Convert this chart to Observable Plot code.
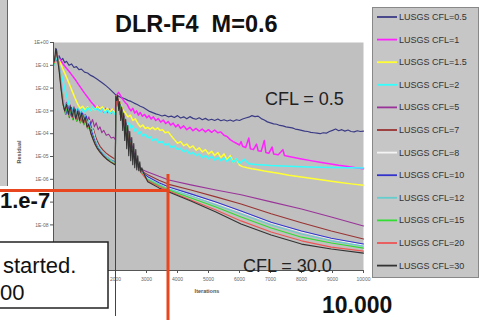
<!DOCTYPE html>
<html><head><meta charset="utf-8">
<script src="https://cdn.jsdelivr.net/npm/d3@7"></script>
<script src="https://cdn.jsdelivr.net/npm/@observablehq/plot@0.6"></script>
<style>
html,body{margin:0;padding:0;background:#fff;}
#chart{position:relative;width:479px;height:320px;overflow:hidden;}
</style></head><body><div id="chart"></div>
<script>
const seriesNames = ["LUSGS CFL=0.5","LUSGS CFL=1","LUSGS CFL=1.5","LUSGS CFL=2","LUSGS CFL=5","LUSGS CFL=7","LUSGS CFL=8","LUSGS CFL=10","LUSGS CFL=12","LUSGS CFL=15","LUSGS CFL=20","LUSGS CFL=30"];
const seriesColors = ["#3b3b86","#ff22ff","#ffff33","#33ffff","#993399","#993333","#f4f4f4","#3333cc","#66cccc","#33dd33","#ee5555","#333333"];
const seriesWidths = [1.2,1.5,1.5,1.5,1.1,1.1,1.1,1.1,1.1,1.1,1.1,1.1];

const xTicks = [0,1000,2000,3000,4000,5000,6000,7000,8000,9000,10000];
const yTicks = [1e-10,1e-9,1e-8,1e-7,1e-6,1e-5,1e-4,1e-3,1e-2,1e-1,1];
// tick labels that lie under the slide's overlaid boxes
const xHiddenLabels = [0,1000];
const yHiddenLabels = [1e-10,1e-9,1e-7];

const cfl05 = [[60,2.2e-1],[120,1.5e-1],[180,2.6e-1],[240,1.7e-1],[300,2.0e-1],[360,1.3e-1],[420,1.5e-1],[500,1.0e-1],[580,1.15e-1],[660,8.0e-2],[740,8.8e-2],[820,6.5e-2],[900,6.8e-2],[1000,5.0e-2],[1100,4.6e-2],[1200,3.6e-2],[1300,3.1e-2],[1400,2.5e-2],[1500,2.0e-2],[1600,1.6e-2],[1700,1.25e-2],[1800,9.5e-3],[1900,7.0e-3],[2000,5.2e-3],[2100,4.4e-3],[2200,3.8e-3],[2300,3.4e-3],[2400,2.9e-3],[2500,2.6e-3],[2600,2.2e-3],[2700,1.9e-3],[2800,1.6e-3],[2900,1.4e-3],[3000,1.15e-3],[3100,9.5e-4],[3200,8.4e-4],[3300,7.4e-4],[3400,6.8e-4],[3500,6.0e-4],[3600,6.5e-4],[3700,5.5e-4],[3800,5.9e-4],[3900,5.1e-4],[4000,6.2e-4],[4100,4.9e-4],[4200,5.5e-4],[4300,4.5e-4],[4400,5.6e-4],[4500,4.7e-4],[4600,4.3e-4],[4700,5.0e-4],[4800,4.1e-4],[4900,4.7e-4],[5000,3.9e-4],[5100,4.3e-4],[5200,3.8e-4],[5300,4.4e-4],[5400,3.7e-4],[5500,4.1e-4],[5600,3.6e-4],[5700,4.0e-4],[5800,3.5e-4],[5900,4.1e-4],[6000,3.8e-4],[6100,4.4e-4],[6200,4.9e-4],[6300,5.3e-4],[6400,6.2e-4],[6500,5.6e-4],[6600,5.9e-4],[6700,4.6e-4],[6800,4.0e-4],[6900,3.3e-4],[7000,3.0e-4],[7100,2.7e-4],[7200,2.6e-4],[7300,2.3e-4],[7400,2.2e-4],[7500,2.0e-4],[7600,1.9e-4],[7700,1.8e-4],[7800,1.6e-4],[7900,1.5e-4],[8000,1.4e-4],[8100,1.3e-4],[8200,1.25e-4],[8300,1.15e-4],[8400,1.1e-4],[8500,1.05e-4],[8600,1.0e-4],[8700,1.1e-4],[8800,1.05e-4],[8900,1.25e-4],[9000,1.4e-4],[9100,1.6e-4],[9200,1.35e-4],[9300,1.5e-4],[9400,1.3e-4],[9500,1.45e-4],[9600,1.25e-4],[9700,1.2e-4],[9800,1.35e-4],[9900,1.25e-4],[10000,1.3e-4]];

const cfl1 = [[100,3.0e-1],[160,2.0e-1],[220,1.8e-1],[300,1.2e-1],[400,8.0e-2],[500,5.5e-2],[600,3.6e-2],[700,2.4e-2],[800,1.5e-2],[900,9.5e-3],[1000,6.0e-3],[1100,4.0e-3],[1200,2.6e-3],[1300,1.8e-3],[1400,1.2e-3],[1450,1.6e-3],[1500,1.0e-3],[1560,1.4e-3],[1620,9.0e-4],[1680,1.3e-3],[1740,8.5e-4],[1800,1.2e-3],[1860,8.0e-4],[1920,1.1e-3],[1990,8.5e-4],[2020,3.0e-3],[2060,5.5e-3],[2100,6.5e-3],[2150,5.0e-3],[2200,3.8e-3],[2260,2.9e-3],[2320,2.3e-3],[2380,1.9e-3],[2440,1.3e-3],[2500,1.0e-3],[2560,1.3e-3],[2620,8.0e-4],[2680,1.0e-3],[2740,6.5e-4],[2800,8.5e-4],[2870,5.8e-4],[2940,7.0e-4],[3010,5.0e-4],[3080,6.2e-4],[3150,4.4e-4],[3220,5.5e-4],[3300,3.8e-4],[3380,4.6e-4],[3460,3.2e-4],[3540,4.0e-4],[3620,2.8e-4],[3700,3.4e-4],[3780,2.4e-4],[3860,2.9e-4],[3940,2.0e-4],[4020,2.5e-4],[4100,1.7e-4],[4200,2.2e-4],[4300,1.5e-4],[4400,1.9e-4],[4500,1.35e-4],[4600,1.7e-4],[4700,1.3e-4],[4800,1.6e-4],[4900,1.2e-4],[5000,1.5e-4],[5100,1.15e-4],[5200,1.45e-4],[5300,1.1e-4],[5400,1.2e-4],[5500,8.5e-5],[5600,7.5e-5],[5700,5.5e-5],[5800,4.5e-5],[5900,3.8e-5],[6000,3.2e-5],[6050,4.5e-5],[6100,2.8e-5],[6200,2.5e-5],[6300,6.5e-5],[6350,2.2e-5],[6450,2.0e-5],[6550,3.5e-5],[6600,1.8e-5],[6700,1.7e-5],[6800,5.0e-5],[6850,1.5e-5],[6950,1.4e-5],[7050,2.6e-5],[7100,1.3e-5],[7250,1.2e-5],[7400,2.0e-5],[7450,1.1e-5],[7600,1.0e-5],[7800,8.8e-6],[8000,7.8e-6],[8300,6.6e-6],[8600,5.6e-6],[8900,4.8e-6],[9200,4.1e-6],[9500,3.6e-6],[9800,3.1e-6],[10000,2.9e-6]];

const cfl15 = [[100,2.4e-1],[160,1.8e-1],[230,1.2e-1],[300,7.0e-2],[380,4.0e-2],[460,2.2e-2],[540,1.2e-2],[620,6.5e-3],[700,3.5e-3],[780,2.0e-3],[860,1.3e-3],[940,1.6e-3],[1020,1.1e-3],[1100,1.5e-3],[1180,1.0e-3],[1260,1.4e-3],[1340,1.1e-3],[1420,1.6e-3],[1500,1.2e-3],[1580,1.5e-3],[1660,1.0e-3],[1740,1.3e-3],[1820,9.0e-4],[1900,1.2e-3],[1990,8.0e-4],[2030,2.5e-3],[2090,3.2e-3],[2160,2.0e-3],[2240,1.1e-3],[2320,8.0e-4],[2400,5.5e-4],[2480,6.5e-4],[2560,3.8e-4],[2640,4.5e-4],[2720,2.8e-4],[2800,2.0e-4],[2880,2.4e-4],[2960,1.7e-4],[3040,1.9e-4],[3120,1.6e-4],[3200,1.9e-4],[3280,1.5e-4],[3360,1.8e-4],[3440,1.4e-4],[3520,1.5e-4],[3600,1.1e-4],[3700,1.2e-4],[3800,8.0e-5],[3900,5.5e-5],[4000,3.8e-5],[4100,4.5e-5],[4200,3.0e-5],[4300,3.5e-5],[4400,2.4e-5],[4500,2.9e-5],[4600,1.9e-5],[4700,2.4e-5],[4800,1.6e-5],[4900,2.0e-5],[5000,1.3e-5],[5100,1.7e-5],[5200,1.1e-5],[5300,1.5e-5],[5400,9.0e-6],[5500,1.3e-5],[5600,7.0e-6],[5700,1.1e-5],[5800,5.5e-6],[5900,8.0e-6],[6000,4.2e-6],[6100,3.6e-6],[6250,3.2e-6],[6400,2.9e-6],[6600,2.6e-6],[6800,2.3e-6],[7000,2.1e-6],[7300,1.8e-6],[7600,1.5e-6],[8000,1.25e-6],[8400,1.05e-6],[8800,8.8e-7],[9200,7.4e-7],[9600,6.3e-7],[10000,5.5e-7]];

const cfl2 = [[100,2.0e-1],[160,1.3e-1],[220,6.0e-2],[280,2.8e-2],[340,1.3e-2],[400,6.0e-3],[460,3.0e-3],[520,1.6e-3],[580,1.0e-3],[640,1.4e-3],[700,9.0e-4],[780,1.3e-3],[860,8.0e-4],[940,1.2e-3],[1020,9.0e-4],[1100,1.4e-3],[1180,1.0e-3],[1260,1.5e-3],[1340,1.1e-3],[1420,1.3e-3],[1500,9.0e-4],[1580,1.2e-3],[1660,8.0e-4],[1740,1.1e-3],[1820,7.5e-4],[1900,9.5e-4],[1990,7.0e-4],[2030,2.0e-3],[2080,2.6e-3],[2140,1.5e-3],[2200,9.0e-4],[2260,6.0e-4],[2320,3.5e-4],[2380,2.4e-4],[2440,3.0e-4],[2500,1.8e-4],[2560,2.2e-4],[2620,1.3e-4],[2680,1.6e-4],[2740,1.0e-4],[2800,1.2e-4],[2880,8.0e-5],[2960,9.5e-5],[3040,6.5e-5],[3120,7.5e-5],[3200,5.0e-5],[3300,6.0e-5],[3400,4.0e-5],[3500,4.6e-5],[3600,3.2e-5],[3700,3.6e-5],[3800,2.5e-5],[3900,2.9e-5],[4000,2.0e-5],[4100,2.3e-5],[4200,1.6e-5],[4300,1.9e-5],[4400,1.3e-5],[4500,1.5e-5],[4600,1.1e-5],[4700,1.3e-5],[4800,9.0e-6],[4900,1.1e-5],[5000,8.0e-6],[5100,1.0e-5],[5200,7.0e-6],[5300,9.0e-6],[5400,6.5e-6],[5500,8.5e-6],[5600,6.0e-6],[5700,9.0e-6],[5800,5.5e-6],[5900,8.0e-6],[6000,5.0e-6],[6150,7.5e-6],[6300,4.8e-6],[6450,4.6e-6],[6600,4.4e-6],[6800,4.2e-6],[7000,4.0e-6],[7400,3.8e-6],[7800,3.6e-6],[8200,3.5e-6],[8600,3.4e-6],[9000,3.3e-6],[9500,3.2e-6],[10000,3.1e-6]];

const cfl5 = [[30,1.2e-1],[100,3.8e-1],[160,1.8e-1],[230,4.0e-2],[290,6.0e-3],[360,1.5e-3],[420,2.4e-3],[480,9.0e-4],[540,1.8e-3],[600,7.0e-4],[660,1.5e-3],[720,6.0e-4],[780,1.2e-3],[840,5.0e-4],[900,9.0e-4],[960,4.0e-4],[1020,7.0e-4],[1080,3.2e-4],[1140,5.5e-4],[1200,2.6e-4],[1260,4.2e-4],[1320,2.0e-4],[1380,3.0e-4],[1440,1.5e-4],[1500,2.0e-4],[1560,1.1e-4],[1620,1.4e-4],[1700,8.5e-5],[1780,9.5e-5],[1860,6.5e-5],[1940,7.0e-5],[1995,5.5e-5],[2015,3.6e-3],[2070,3.0e-3],[2168,1.7e-3],[2298,4.6e-4],[2427,1.0e-4],[2557,2.2e-5],[2686,6.0e-6],[2816,2.8e-6],[3040,2.1e-6],[3400,1.35e-6],[3720,9.4e-7],[4430,5.7e-7],[5240,3.4e-7],[6050,2.1e-7],[7020,1.02e-7],[8000,5.0e-8],[8960,2.2e-8],[10000,9.0e-9]];

const cfl7 = [[30,1.4e-1],[90,4.5e-1],[150,2.2e-1],[210,5.0e-2],[270,8.0e-3],[330,1.8e-3],[390,8.0e-4],[450,1.6e-3],[510,5.0e-4],[570,1.3e-3],[630,4.0e-4],[690,1.1e-3],[750,3.5e-4],[810,9.0e-4],[870,3.0e-4],[930,7.0e-4],[990,2.6e-4],[1050,5.0e-4],[1110,2.2e-4],[1170,3.5e-4],[1230,1.4e-4],[1290,1.6e-4],[1350,8.0e-5],[1420,4.5e-5],[1500,2.8e-5],[1600,1.9e-5],[1700,1.4e-5],[1800,1.1e-5],[1900,9.0e-6],[1995,7.5e-6],[2015,4.0e-3],[2060,3.3e-3],[2168,1.5e-3],[2298,3.8e-4],[2427,8.3e-5],[2557,1.8e-5],[2686,5.4e-6],[2816,2.4e-6],[3040,1.6e-6],[3400,9.0e-7],[3720,6.0e-7],[4430,3.4e-7],[5240,1.7e-7],[6050,8.3e-8],[7020,3.1e-8],[8000,1.25e-8],[8960,5.4e-9],[10000,2.4e-9]];

const cfl8 = [[30,1.1e-1],[110,4.0e-1],[170,1.6e-1],[240,3.0e-2],[300,4.5e-3],[370,1.2e-3],[430,2.0e-3],[490,7.0e-4],[550,1.5e-3],[610,5.5e-4],[670,1.2e-3],[730,4.5e-4],[790,1.0e-3],[850,3.8e-4],[910,8.0e-4],[970,3.2e-4],[1030,6.0e-4],[1090,2.5e-4],[1150,3.8e-4],[1210,1.6e-4],[1270,1.5e-4],[1330,7.0e-5],[1400,3.5e-5],[1480,2.2e-5],[1570,1.5e-5],[1670,1.1e-5],[1770,8.5e-6],[1870,6.8e-6],[1995,5.5e-6],[2015,4.2e-3],[2050,3.6e-3],[2168,1.5e-3],[2298,3.6e-4],[2427,7.5e-5],[2557,1.6e-5],[2686,5.0e-6],[2816,2.3e-6],[3040,1.2e-6],[3400,6.8e-7],[3720,4.2e-7],[4430,2.1e-7],[5240,9.2e-8],[6050,3.7e-8],[7020,1.2e-8],[8000,4.9e-9],[8960,2.4e-9],[10000,1.3e-9]];

const cfl10 = [[30,1.3e-1],[95,5.0e-1],[150,2.0e-1],[215,4.0e-2],[275,6.0e-3],[340,1.4e-3],[400,7.0e-4],[460,1.7e-3],[520,6.0e-4],[580,1.4e-3],[640,4.5e-4],[700,1.2e-3],[760,4.0e-4],[820,1.0e-3],[880,3.5e-4],[940,8.0e-4],[1000,3.0e-4],[1060,6.0e-4],[1120,2.2e-4],[1180,3.2e-4],[1240,1.2e-4],[1300,7.0e-5],[1370,4.0e-5],[1450,2.4e-5],[1540,1.6e-5],[1640,1.2e-5],[1740,9.0e-6],[1840,7.2e-6],[1995,5.8e-6],[2015,4.4e-3],[2050,3.8e-3],[2168,1.5e-3],[2298,3.7e-4],[2427,7.8e-5],[2557,1.7e-5],[2686,5.2e-6],[2816,2.3e-6],[3040,1.3e-6],[3400,7.0e-7],[3720,4.6e-7],[4430,2.3e-7],[5240,1.02e-7],[6050,4.1e-8],[7020,1.3e-8],[8000,5.4e-9],[8960,2.6e-9],[10000,1.45e-9]];

const cfl12 = [[30,1.0e-1],[105,3.5e-1],[165,1.5e-1],[225,3.5e-2],[285,5.5e-3],[350,1.3e-3],[410,2.2e-3],[470,8.0e-4],[530,1.6e-3],[590,6.0e-4],[650,1.3e-3],[710,5.0e-4],[770,1.1e-3],[830,4.2e-4],[890,8.5e-4],[950,3.5e-4],[1010,6.5e-4],[1070,2.8e-4],[1130,4.0e-4],[1190,1.8e-4],[1250,1.6e-4],[1310,8.0e-5],[1380,4.2e-5],[1460,2.5e-5],[1550,1.7e-5],[1650,1.2e-5],[1750,9.0e-6],[1850,7.0e-6],[1995,5.2e-6],[2015,4.3e-3],[2060,3.4e-3],[2168,1.4e-3],[2298,3.5e-4],[2427,7.2e-5],[2557,1.55e-5],[2686,4.8e-6],[2816,2.2e-6],[3040,1.05e-6],[3400,6.0e-7],[3720,3.8e-7],[4430,1.9e-7],[5240,7.5e-8],[6050,3.0e-8],[7020,9.9e-9],[8000,4.0e-9],[8960,2.0e-9],[10000,1.17e-9]];

const cfl15b = [[30,1.2e-1],[85,4.2e-1],[140,1.9e-1],[200,4.5e-2],[260,7.0e-3],[320,1.6e-3],[380,7.5e-4],[440,1.5e-3],[500,5.5e-4],[560,1.2e-3],[620,4.2e-4],[680,1.0e-3],[740,3.6e-4],[800,8.0e-4],[860,3.0e-4],[920,6.5e-4],[980,2.4e-4],[1040,4.5e-4],[1100,1.6e-4],[1160,2.0e-4],[1220,9.0e-5],[1290,5.0e-5],[1360,3.0e-5],[1440,2.0e-5],[1530,1.4e-5],[1630,1.0e-5],[1730,7.8e-6],[1850,6.0e-6],[1995,4.6e-6],[2015,4.6e-3],[2060,3.5e-3],[2168,1.35e-3],[2298,3.3e-4],[2427,6.8e-5],[2557,1.45e-5],[2686,4.6e-6],[2816,2.1e-6],[3040,9.5e-7],[3400,5.3e-7],[3720,3.4e-7],[4430,1.5e-7],[5240,6.1e-8],[6050,2.2e-8],[7020,7.3e-9],[8000,2.9e-9],[8960,1.6e-9],[10000,9.6e-10]];

const cfl20 = [[30,1.3e-1],[80,3.8e-1],[130,2.1e-1],[190,5.5e-2],[250,9.0e-3],[310,1.9e-3],[370,9.0e-4],[430,1.8e-3],[490,6.5e-4],[550,1.4e-3],[610,5.0e-4],[670,1.1e-3],[730,4.2e-4],[790,9.0e-4],[850,3.4e-4],[910,7.0e-4],[970,2.7e-4],[1030,4.8e-4],[1090,1.8e-4],[1150,2.2e-4],[1210,1.0e-4],[1280,5.5e-5],[1350,3.2e-5],[1430,2.1e-5],[1520,1.4e-5],[1620,1.0e-5],[1720,7.5e-6],[1840,5.8e-6],[1995,4.4e-6],[2012,4.8e-3],[2050,1.6e-3],[2090,3.2e-3],[2140,7.0e-4],[2190,1.3e-3],[2240,2.5e-4],[2290,4.0e-4],[2340,8.0e-5],[2390,1.2e-4],[2440,3.0e-5],[2490,4.0e-5],[2557,1.2e-5],[2686,4.2e-6],[2816,2.0e-6],[3040,8.6e-7],[3400,4.8e-7],[3720,3.1e-7],[4430,1.25e-7],[5240,4.5e-8],[6050,1.5e-8],[7020,4.9e-9],[8000,2.0e-9],[8960,1.06e-9],[10000,7.1e-10]];

const cfl30 = [[30,1.5e-1],[75,5.5e-1],[120,2.4e-1],[180,6.0e-2],[240,1.0e-2],[300,2.2e-3],[360,1.0e-3],[420,2.0e-3],[480,7.0e-4],[540,1.6e-3],[600,5.5e-4],[660,1.3e-3],[720,4.5e-4],[780,1.0e-3],[840,3.8e-4],[900,8.0e-4],[960,3.0e-4],[1020,5.5e-4],[1080,2.0e-4],[1140,2.5e-4],[1200,1.1e-4],[1270,6.0e-5],[1340,3.5e-5],[1420,2.2e-5],[1510,1.5e-5],[1610,1.05e-5],[1710,7.8e-6],[1830,5.8e-6],[1995,4.2e-6],[2010,4.5e-3],[2039,2.9e-3],[2071,4.8e-3],[2104,1.05e-3],[2136,2.6e-3],[2168,3.8e-4],[2201,1.4e-3],[2233,1.4e-4],[2265,7.7e-4],[2298,5.0e-5],[2330,4.2e-4],[2362,2.2e-5],[2395,2.3e-4],[2427,1.08e-5],[2460,1.24e-4],[2492,6.5e-6],[2524,6.7e-5],[2557,4.4e-6],[2589,3.7e-5],[2621,3.2e-6],[2654,2.0e-5],[2686,2.6e-6],[2718,1.08e-5],[2751,2.4e-6],[2783,5.9e-6],[2816,2.1e-6],[2848,3.2e-6],[2900,2.0e-6],[3040,7.8e-7],[3400,4.2e-7],[3720,2.8e-7],[4430,1.13e-7],[5240,3.7e-8],[6050,1.1e-8],[7020,3.6e-9],[8000,1.44e-9],[8960,8.7e-10],[10000,5.8e-10]];

const seriesData = [cfl05, cfl1, cfl15, cfl2, cfl5, cfl7, cfl8, cfl10, cfl12, cfl15b, cfl20, cfl30];

const fmtE = d => {
  if (yHiddenLabels.some(h => Math.abs(Math.log10(h) - Math.log10(d)) < 1e-6)) return "";
  const e = Math.round(Math.log10(d));
  return "1E" + (e < 0 ? "-" : "+") + String(Math.abs(e)).padStart(2, "0");
};
const fmtX = d => xHiddenLabels.includes(d) ? "" : String(d);

const plot = Plot.plot({
  width: 479, height: 320,
  marginLeft: 53, marginRight: 116, marginTop: 42, marginBottom: 50,
  style: {fontFamily: "'Liberation Sans', Arial, sans-serif", background: "transparent", color: "#555"},
  x: {domain: [0, 10000]},
  y: {type: "log", domain: [1e-10, 1]},
  marks: [
    Plot.frame({fill: "#c0c0c0", stroke: null}),
    ...seriesData.map((pts, i) => Plot.line(pts, {x: d => d[0], y: d => d[1], stroke: seriesColors[i], strokeWidth: seriesWidths[i], strokeLinejoin: "round"})),
    Plot.ruleX([0], {stroke: "#555", strokeWidth: 1}),
    Plot.ruleY([1e-10], {stroke: "#555", strokeWidth: 1}),
    Plot.axisY({ticks: yTicks, tickFormat: fmtE, tickSize: 3, tickPadding: 2, label: null, fontSize: 5, fill: "#666", stroke: "#555"}),
    Plot.axisX({ticks: xTicks, tickFormat: fmtX, tickSize: 3, tickPadding: 4, label: null, fontSize: 5, fill: "#666", stroke: "#555"})
  ]
});

document.getElementById("chart").appendChild(plot);
const svg = d3.select(plot);
const font = "'Liberation Sans', Arial, sans-serif";
const addText = (x, y, size, weight, fill, str, anchor = "start") =>
  svg.append("text").attr("x", x).attr("y", y).attr("text-anchor", anchor).attr("font-family", font)
    .attr("font-size", size).attr("font-weight", weight).attr("fill", fill).style("white-space", "pre").text(str);

// axis titles
addText(207, 293, 5.5, "bold", "#555", "Iterations", "middle");
svg.append("text").attr("transform", "translate(21,152) rotate(-90)").attr("text-anchor", "middle").attr("font-family", font).attr("font-size", 5.5).attr("font-weight", "bold").attr("fill", "#555").text("Residual");

// left edge strip of neighbouring slide object
svg.append("rect").attr("x", 0).attr("y", 0).attr("width", 7.5).attr("height", 186).attr("fill", "#c8c8c8");
svg.append("line").attr("x1", 7.5).attr("x2", 7.5).attr("y1", 0).attr("y2", 186).attr("stroke", "#666");

// title
addText(115, 32, 23.5, "bold", "#111", "DLR-F4  M=0.6");

// annotations
addText(265, 105, 18, "normal", "#222", "CFL = 0.5");
svg.append("line").attr("x1", 115.5).attr("x2", 115.5).attr("y1", 98).attr("y2", 316).attr("stroke", "#444").attr("stroke-width", 1);
addText(243, 272, 18, "normal", "#222", "CFL = 30.0");

// 1.e-7 label
svg.append("rect").attr("x", 0).attr("y", 192).attr("width", 48).attr("height", 23).attr("fill", "#fff");
addText(0, 208, 22, "bold", "#111", "1.e-7");

// red marker lines
svg.append("line").attr("x1", 0).attr("x2", 169.5).attr("y1", 190.5).attr("y2", 190.5).attr("stroke", "#e8461e").attr("stroke-width", 3);
svg.append("line").attr("x1", 168).attr("x2", 168).attr("y1", 174).attr("y2", 320).attr("stroke", "#e8461e").attr("stroke-width", 3);

// text box
svg.append("rect").attr("x", -2).attr("y", 242).attr("width", 110).attr("height", 66).attr("fill", "#fff").attr("stroke", "#222").attr("stroke-width", 1.5);
addText(3, 273, 22, "normal", "#111", "started.");
addText(0, 300, 22, "normal", "#111", "00");

addText(322, 313, 23, "bold", "#111", "10.000");

// legend
const lg = svg.append("g");
lg.append("rect").attr("x", 372.5).attr("y", 7.5).attr("width", 106).attr("height", 270).attr("fill", "#c6c6c6").attr("stroke", "#888");
seriesNames.forEach((name, i) => {
  const y = 17 + 22.6 * i;
  lg.append("line").attr("x1", 377).attr("x2", 397).attr("y1", y).attr("y2", y).attr("stroke", seriesColors[i]).attr("stroke-width", 1.8);
  lg.append("text").attr("x", 399).attr("y", y + 3).attr("text-anchor", "start").attr("font-family", font).attr("font-size", 9).attr("fill", "#333").text(name);
});
</script>
</body></html>
